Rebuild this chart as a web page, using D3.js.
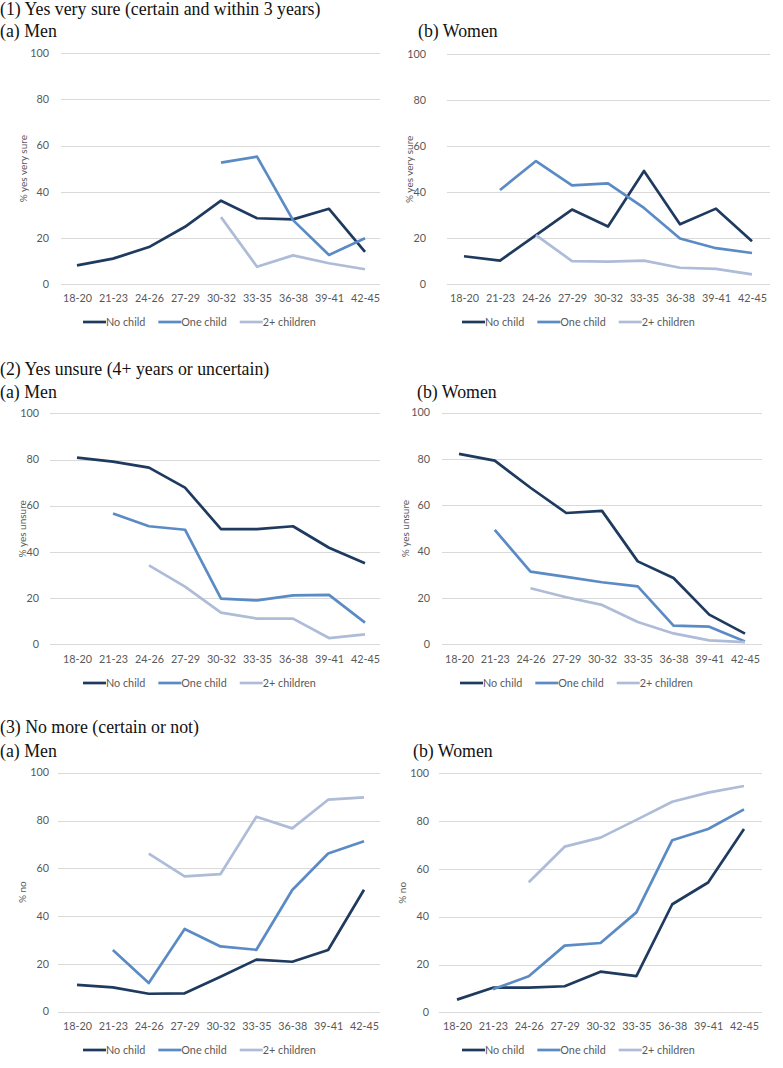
<!DOCTYPE html>
<html>
<head>
<meta charset="utf-8">
<script src="https://cdn.jsdelivr.net/npm/d3@7"></script>
<style>
  html, body { margin: 0; padding: 0; background: #fff; }
  svg { display: block; }
</style>
</head>
<body>
<svg id="chart" width="783" height="1068"></svg>
<script>
// ---------------- DATA ----------------
const categories = ["18-20","21-23","24-26","27-29","30-32","33-35","36-38","39-41","42-45"];
const yTicks = [0, 20, 40, 60, 80, 100];
const seriesNames = ["No child", "One child", "2+ children"];

const sectionTitles = [
  "(1) Yes very sure (certain and within 3 years)",
  "(2) Yes unsure (4+ years or uncertain)",
  "(3) No more (certain or not)"
];
const panelTitles = ["(a) Men", "(b) Women"];
const yAxisTitles = ["% yes very sure", "% yes unsure", "% no"];

// (1) Yes very sure
const sureMenNoChild    = [8.1, 11.0, 16.0, 24.8, 36.1, 28.5, 28.0, 32.6, 13.9];
const sureMenOneChild   = [null, null, null, null, 52.6, 55.2, 27.7, 12.6, 19.8];
const sureMenTwoPlus    = [null, null, null, null, 29.0, 7.5, 12.4, 9.0, 6.4];
const sureWomenNoChild  = [12.2, 10.3, 21.4, 32.5, 25.1, 49.3, 26.1, 32.9, 18.7];
const sureWomenOneChild = [null, 41.0, 53.6, 43.0, 43.9, 33.2, 19.9, 15.7, 13.6];
const sureWomenTwoPlus  = [null, null, 21.4, 10.1, 9.9, 10.3, 7.2, 6.7, 4.3];

// (2) Yes unsure
const unsureMenNoChild    = [80.8, 79.1, 76.5, 67.8, 49.9, 49.9, 51.1, 41.8, 35.1];
const unsureMenOneChild   = [null, 56.6, 51.1, 49.6, 19.8, 19.0, 21.2, 21.4, 9.4];
const unsureMenTwoPlus    = [null, null, 34.2, 25.0, 13.7, 11.1, 11.1, 2.7, 4.3];
const unsureWomenNoChild  = [82.2, 79.3, 67.6, 56.7, 57.6, 35.8, 28.6, 12.8, 4.6];
const unsureWomenOneChild = [null, 49.4, 31.4, 29.1, 26.8, 25.0, 8.1, 7.6, 1.2];
const unsureWomenTwoPlus  = [null, null, 24.2, 20.3, 17.0, 9.6, 4.7, 1.7, 0.9];

// (3) No more
const noMenNoChild    = [11.2, 10.2, 7.5, 7.7, 14.6, 21.8, 20.9, 25.8, 51.0];
const noMenOneChild   = [null, 25.8, 12.0, 34.6, 27.3, 25.9, 50.9, 66.2, 71.3];
const noMenTwoPlus    = [null, null, 66.1, 56.6, 57.6, 81.6, 76.7, 88.7, 89.7];
const noWomenNoChild  = [5.3, 10.3, 10.3, 10.9, 17.0, 15.1, 45.2, 54.3, 76.7];
const noWomenOneChild = [null, 9.6, 15.1, 27.9, 29.0, 41.8, 72.0, 76.7, 84.9];
const noWomenTwoPlus  = [null, null, 54.4, 69.3, 73.1, 80.5, 88.1, 91.9, 94.7];

// ---------------- STYLE / LAYOUT ----------------
const colors = ["#1f3a5f", "#5b8bc5", "#aebcd8"];
const sansFont = "Lato, 'Noto Sans', sans-serif";
const serifFont = "'Liberation Serif', 'DejaVu Serif', serif";
const textGrey = "#595959";

const panels = [
  { sec: 0, side: 0, data: [sureMenNoChild, sureMenOneChild, sureMenTwoPlus],
    y0: 284.0, y100: 53.3, gx0: 61, gx1: 380, cx0: 77, cx1: 365, tickX: 49, titleX: 23, legX: 83, catY: 302, legY: 322,
    secY: 15, panelY: 37, panelX: 0 },
  { sec: 0, side: 1, data: [sureWomenNoChild, sureWomenOneChild, sureWomenTwoPlus],
    y0: 284.3, y100: 54.3, gx0: 447, gx1: 770, cx0: 464, cx1: 752, tickX: 426, titleX: 409, legX: 462, catY: 302, legY: 322,
    panelY: 37, panelX: 418 },
  { sec: 1, side: 0, data: [unsureMenNoChild, unsureMenOneChild, unsureMenTwoPlus],
    y0: 644.3, y100: 413.3, gx0: 50, gx1: 380, cx0: 77, cx1: 365, tickX: 39, titleX: 22, legX: 83, catY: 663, legY: 683,
    secY: 375, panelY: 398, panelX: 0 },
  { sec: 1, side: 1, data: [unsureWomenNoChild, unsureWomenOneChild, unsureWomenTwoPlus],
    y0: 644.3, y100: 412.7, gx0: 442, gx1: 762, cx0: 459, cx1: 745, tickX: 430, titleX: 405, legX: 460, catY: 663, legY: 683,
    panelY: 398, panelX: 417 },
  { sec: 2, side: 0, data: [noMenNoChild, noMenOneChild, noMenTwoPlus],
    y0: 1011.7, y100: 772.7, gx0: 58, gx1: 380, cx0: 77, cx1: 364, tickX: 49, titleX: 22, legX: 83, catY: 1030, legY: 1050,
    secY: 733, panelY: 757, panelX: 0 },
  { sec: 2, side: 1, data: [noWomenNoChild, noWomenOneChild, noWomenTwoPlus],
    y0: 1012.3, y100: 773.3, gx0: 439, gx1: 762, cx0: 457, cx1: 744, tickX: 429, titleX: 402, legX: 462, catY: 1030, legY: 1050,
    panelY: 757, panelX: 413 }
];

const svg = d3.select("#chart");

panels.forEach(p => {
  const g = svg.append("g");
  const x = d3.scalePoint().domain(categories).range([p.cx0, p.cx1]);
  const y = d3.scaleLinear().domain([0, 100]).range([p.y0, p.y100]);

  // section title
  if (p.secY !== undefined) {
    g.append("text")
      .attr("x", 0).attr("y", p.secY)
      .attr("font-family", serifFont).attr("font-size", 17.8)
      .attr("fill", "#111")
      .text(sectionTitles[p.sec]);
  }
  // panel title
  g.append("text")
    .attr("x", p.panelX).attr("y", p.panelY)
    .attr("font-family", serifFont).attr("font-size", 17.8)
    .attr("fill", "#111")
    .text(panelTitles[p.side]);

  // gridlines
  g.selectAll(".grid").data(yTicks).join("line")
    .attr("x1", p.gx0).attr("x2", p.gx1)
    .attr("y1", d => Math.round(y(d)) + 0.5).attr("y2", d => Math.round(y(d)) + 0.5)
    .attr("stroke", "#d9d9d9").attr("stroke-width", 1);

  // y tick labels
  g.selectAll(".ytick").data(yTicks).join("text")
    .attr("x", p.tickX).attr("y", d => y(d))
    .attr("dy", "0.35em")
    .attr("text-anchor", "end")
    .attr("font-family", sansFont).attr("font-size", 10.8)
    .attr("fill", textGrey)
    .text(d => d);

  // y axis title
  g.append("text")
    .attr("transform", `translate(${p.titleX},${(p.y0 + p.y100) / 2}) rotate(-90)`)
    .attr("dy", "0.35em")
    .attr("text-anchor", "middle")
    .attr("font-family", sansFont).attr("font-size", 10)
    .attr("fill", textGrey)
    .text(yAxisTitles[p.sec]);

  // x axis labels
  const xAxis = d3.axisBottom(x).tickSize(0).tickPadding(0);
  const ax = g.append("g").attr("transform", `translate(0,${p.catY})`).call(xAxis);
  ax.select(".domain").remove();
  ax.selectAll("text")
    .attr("y", 0).attr("dy", 0)
    .attr("font-family", sansFont).attr("font-size", 10.8)
    .attr("fill", textGrey);

  // lines
  const line = d3.line()
    .defined(d => d.v !== null)
    .x(d => x(d.c))
    .y(d => y(d.v))
    .curve(d3.curveLinear);

  p.data.forEach((vals, i) => {
    const pts = categories.map((c, k) => ({ c, v: vals[k] }));
    g.append("path")
      .datum(pts)
      .attr("d", line)
      .attr("fill", "none")
      .attr("stroke", colors[i])
      .attr("stroke-width", 2.7)
      .attr("stroke-linejoin", "round")
      .attr("stroke-linecap", "butt");
  });

  // legend
  const leg = g.append("g").attr("transform", `translate(${p.legX},${p.legY})`);
  let cx = 0;
  seriesNames.forEach((name, i) => {
    leg.append("line")
      .attr("x1", cx).attr("x2", cx + 23)
      .attr("y1", 0).attr("y2", 0)
      .attr("stroke", colors[i]).attr("stroke-width", 2.7);
    const t = leg.append("text")
      .attr("x", cx + 23).attr("y", 0).attr("dy", "0.35em")
      .attr("font-family", sansFont).attr("font-size", 10.8)
      .attr("fill", textGrey)
      .text(name);
    const w = t.node().getComputedTextLength();
    cx += 23 + w + 13;
  });
});
</script>
</body>
</html>
